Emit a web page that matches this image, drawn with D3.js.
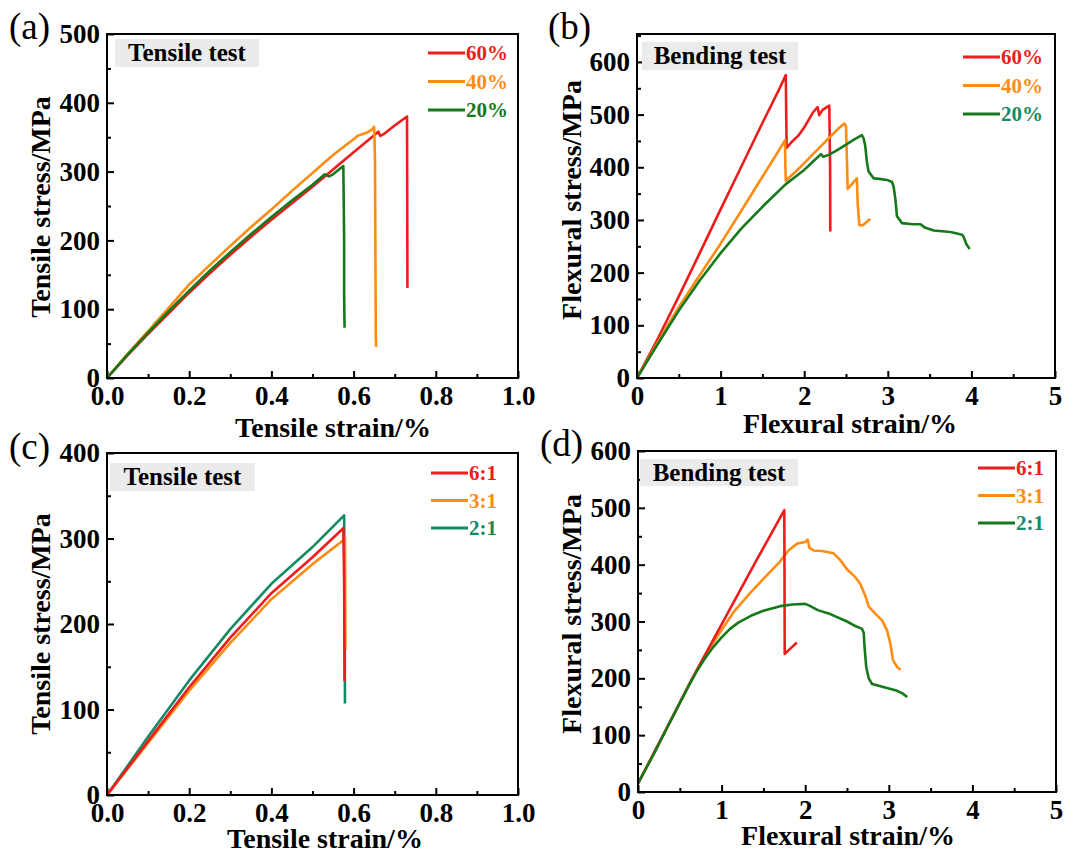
<!DOCTYPE html>
<html>
<head>
<meta charset="utf-8">
<script src="https://cdn.jsdelivr.net/npm/d3@7"></script>
<style>
  html, body { margin: 0; padding: 0; background: #fff; }
  svg { display: block; }
  text { font-family: "Liberation Serif", "Times New Roman", serif; }
</style>
</head>
<body>
<svg id="fig" width="1073" height="855"></svg>
<script>
// ---- Data: stress (MPa) versus strain (%) ----
// (a) tensile test, by fibre content
const tensile60 = [[0,0],[0.05,33],[0.1,64],[0.15,94],[0.2,124],[0.25,152],[0.3,179],[0.35,205],[0.4,230],[0.45,254],[0.5,278],[0.55,303],[0.6,328],[0.65,353],[0.66,358],[0.665,352],[0.672,354],[0.7,367],[0.73,380],[0.731,131]];
const tensile40 = [[0,0],[0.05,35],[0.1,68],[0.15,102],[0.2,136],[0.25,164],[0.3,192],[0.35,219],[0.4,245],[0.45,272],[0.5,298],[0.55,324],[0.6,347],[0.61,352],[0.63,356],[0.645,361],[0.65,365],[0.652,320],[0.653,200],[0.654,60],[0.655,45]];
const tensile20 = [[0,0],[0.05,34],[0.1,66],[0.15,97],[0.2,127],[0.25,156],[0.3,183],[0.35,209],[0.4,234],[0.45,258],[0.5,281],[0.53,296],[0.54,293],[0.55,296],[0.575,308],[0.577,200],[0.577,120],[0.578,73]];

// (b) bending test, by fibre content
const bending60 = [[0,0],[0.25,75],[0.5,155],[0.75,237],[1,320],[1.25,402],[1.5,484],[1.7,548],[1.78,575],[1.785,500],[1.79,437],[1.85,448],[1.93,460],[2.01,478],[2.1,503],[2.16,514],[2.18,499],[2.22,509],[2.3,517],[2.31,400],[2.312,278]];
const bending40 = [[0,0],[0.25,68],[0.5,135],[0.75,195],[1,255],[1.25,318],[1.5,382],[1.65,420],[1.77,451],[1.775,400],[1.78,375],[1.9,392],[2.0,408],[2.1,424],[2.2,440],[2.3,456],[2.4,472],[2.48,483],[2.5,478],[2.51,420],[2.52,359],[2.63,379],[2.64,330],[2.66,290],[2.7,290],[2.79,302]];
const bending20 = [[0,0],[0.25,65],[0.5,128],[0.75,185],[1,237],[1.25,284],[1.5,325],[1.78,368],[2.0,395],[2.1,410],[2.2,425],[2.23,420],[2.3,424],[2.4,433],[2.5,443],[2.6,453],[2.69,461],[2.71,455],[2.73,441],[2.75,410],[2.77,392],[2.83,379],[2.9,378],[2.99,376],[3.05,372],[3.07,363],[3.09,340],[3.11,307],[3.17,294],[3.3,292],[3.39,292],[3.45,285],[3.55,280],[3.75,277],[3.89,272],[3.91,267],[3.94,254],[3.98,245]];

// (c) tensile test, by ratio
const tensile61 = [[0,0],[0.1,63],[0.2,126],[0.3,184],[0.4,236],[0.5,278],[0.575,312],[0.577,250],[0.578,133]];
const tensile31 = [[0,0],[0.1,61],[0.2,122],[0.3,178],[0.4,229],[0.5,270],[0.575,298],[0.579,302],[0.58,170]];
const tensile21 = [[0,0],[0.1,68],[0.2,134],[0.3,194],[0.4,247],[0.5,290],[0.577,327],[0.578,250],[0.579,107]];

// (d) bending test, by ratio
const bending61 = [[0,15],[0.3,100],[0.65,200],[1.0,295],[1.4,403],[1.75,496],[1.752,400],[1.755,243],[1.9,263]];
const bending31 = [[0,15],[0.2,70],[0.4,128],[0.65,200],[0.8,240],[1.0,285],[1.14,316],[1.34,350],[1.5,375],[1.69,404],[1.8,425],[1.9,437],[2.0,440],[2.03,444],[2.05,430],[2.1,425],[2.2,424],[2.34,420],[2.42,408],[2.5,392],[2.6,378],[2.66,366],[2.72,345],[2.76,326],[2.85,312],[2.92,302],[2.98,284],[3.02,260],[3.05,232],[3.1,220],[3.14,215]];
const bending21 = [[0,15],[0.2,70],[0.4,128],[0.6,185],[0.7,212],[0.8,235],[0.9,255],[1.0,272],[1.1,287],[1.2,298],[1.35,310],[1.5,319],[1.7,327],[1.85,330],[2.0,331],[2.05,328],[2.15,320],[2.3,313],[2.5,300],[2.6,292],[2.68,287],[2.7,280],[2.71,255],[2.73,220],[2.76,200],[2.8,190],[2.9,186],[3.0,182],[3.1,178],[3.17,173],[3.22,167]];

// ---- Labels and ticks ----
const contentLabels = ["60%", "40%", "20%"];
const ratioLabels = ["6:1", "3:1", "2:1"];
const tensileXTicks = [0, 0.2, 0.4, 0.6, 0.8, 1.0];
const tensileXMinor = [0.1, 0.3, 0.5, 0.7, 0.9];
const flexXTicks = [0, 1, 2, 3, 4, 5];
const flexXMinor = [0.5, 1.5, 2.5, 3.5, 4.5];
const yTicksA = [0, 100, 200, 300, 400, 500];
const yTicksB = [0, 100, 200, 300, 400, 500, 600];
const yTicksC = [0, 100, 200, 300, 400];
const yTicksD = [0, 100, 200, 300, 400, 500, 600];

const RED = "#ee1c1c", ORANGE = "#ff8c12", GREEN = "#15781a", TEAL = "#148a66";

const panels = [
  { tag: "(a)", box: [107, 34, 518, 378], xDom: [0, 1], yDom: [0, 500],
    xTicks: tensileXTicks, xMinor: tensileXMinor, xFmt: d3.format(".1f"),
    yTicks: yTicksA, xTitle: "Tensile strain/%", yTitle: "Tensile stress/MPa",
    note: "Tensile test", noteBox: [115, 39, 144, 28],
    series: [ {d: tensile60, c: RED}, {d: tensile40, c: ORANGE}, {d: tensile20, c: GREEN} ],
    legend: { labels: contentLabels, colors: [RED, ORANGE, GREEN], text: [RED, ORANGE, GREEN], x: 428, y: 53, dy: 28.5 },
    tagPos: [9, 39], xTitlePos: [333, 437], yTitlePos: [50, 207] },
  { tag: "(b)", box: [637, 34, 1055, 378], xDom: [0, 5], yDom: [0, 653],
    xTicks: flexXTicks, xMinor: flexXMinor, xFmt: d3.format("d"),
    yTicks: yTicksB, xTitle: "Flexural strain/%", yTitle: "Flexural stress/MPa",
    note: "Bending test", noteBox: [642, 42, 156, 28],
    series: [ {d: bending60, c: RED}, {d: bending40, c: ORANGE}, {d: bending20, c: GREEN} ],
    legend: { labels: contentLabels, colors: [RED, ORANGE, GREEN], text: [RED, ORANGE, TEAL], x: 963, y: 57, dy: 28.5 },
    tagPos: [548, 39], xTitlePos: [850, 433], yTitlePos: [581, 200] },
  { tag: "(c)", box: [107, 453, 518, 795], xDom: [0, 1], yDom: [0, 400],
    xTicks: tensileXTicks, xMinor: tensileXMinor, xFmt: d3.format(".1f"),
    yTicks: yTicksC, xTitle: "Tensile strain/%", yTitle: "Tensile stress/MPa",
    note: "Tensile test", noteBox: [110, 463, 145, 28],
    series: [ {d: tensile21, c: TEAL}, {d: tensile31, c: ORANGE}, {d: tensile61, c: RED} ],
    legend: { labels: ratioLabels, colors: [RED, ORANGE, TEAL], text: [RED, ORANGE, TEAL], x: 431, y: 473, dy: 27.5 },
    tagPos: [9, 459], xTitlePos: [325, 848], yTitlePos: [50, 624] },
  { tag: "(d)", box: [638, 451, 1056, 792], xDom: [0, 5], yDom: [0, 600],
    xTicks: flexXTicks, xMinor: flexXMinor, xFmt: d3.format("d"),
    yTicks: yTicksD, xTitle: "Flexural strain/%", yTitle: "Flexural stress/MPa",
    note: "Bending test", noteBox: [640, 459, 158, 27],
    series: [ {d: bending31, c: ORANGE}, {d: bending61, c: RED}, {d: bending21, c: GREEN} ],
    legend: { labels: ratioLabels, colors: [RED, ORANGE, GREEN], text: [RED, ORANGE, TEAL], x: 978, y: 468, dy: 27.5 },
    tagPos: [540, 456], xTitlePos: [848, 845], yTitlePos: [581, 614] }
];

const svg = d3.select("#fig");

panels.forEach(p => {
  const [x0, y0, x1, y1] = p.box;
  const x = d3.scaleLinear().domain(p.xDom).range([x0, x1]);
  const y = d3.scaleLinear().domain(p.yDom).range([y1, y0]);
  const g = svg.append("g");

  // minor y ticks at the half-steps
  const yStep = p.yTicks[1] - p.yTicks[0];
  const yMinor = p.yTicks.slice(0, -1).map(v => v + yStep / 2)
    .concat(p.yTicks[p.yTicks.length - 1] + yStep / 2 < p.yDom[1] ? [p.yTicks[p.yTicks.length - 1] + yStep / 2] : []);

  // bottom axis: major + minor inward ticks
  const gx = g.append("g").attr("transform", `translate(0,${y1})`)
    .call(d3.axisBottom(x).tickValues(p.xTicks).tickFormat(p.xFmt)
      .tickSizeInner(-7).tickSizeOuter(0).tickPadding(8));
  const gxm = g.append("g").attr("transform", `translate(0,${y1})`)
    .call(d3.axisBottom(x).tickValues(p.xMinor).tickFormat("")
      .tickSizeInner(-4).tickSizeOuter(0));
  // left axis: major + minor inward ticks
  const gy = g.append("g").attr("transform", `translate(${x0},0)`)
    .call(d3.axisLeft(y).tickValues(p.yTicks).tickFormat(d3.format("d"))
      .tickSizeInner(-7).tickSizeOuter(0).tickPadding(7));
  const gym = g.append("g").attr("transform", `translate(${x0},0)`)
    .call(d3.axisLeft(y).tickValues(yMinor).tickFormat("")
      .tickSizeInner(-4).tickSizeOuter(0));

  [gx, gxm, gy, gym].forEach(a => {
    a.select(".domain").remove();
    a.selectAll(".tick line").attr("stroke", "#000").attr("stroke-width", 2);
    a.selectAll(".tick text")
      .attr("font-family", "Liberation Serif, Times New Roman, serif")
      .attr("font-weight", "bold").attr("font-size", 27).attr("fill", "#000");
  });

  // note box
  g.append("rect").attr("x", p.noteBox[0]).attr("y", p.noteBox[1])
    .attr("width", p.noteBox[2]).attr("height", p.noteBox[3]).attr("fill", "#ebebeb");
  g.append("text").attr("x", p.noteBox[0] + p.noteBox[2] / 2).attr("y", p.noteBox[1] + p.noteBox[3] / 2 + 8)
    .attr("text-anchor", "middle").attr("font-weight", "bold").attr("font-size", 25)
    .text(p.note);

  // curves
  const line = d3.line().x(d => x(d[0])).y(d => y(d[1]));
  const clipId = "clip" + p.tag.replace(/\W/g, "");
  svg.append("clipPath").attr("id", clipId).append("rect")
    .attr("x", x0).attr("y", y0).attr("width", x1 - x0).attr("height", y1 - y0);
  p.series.forEach(s => {
    g.append("path").datum(s.d).attr("d", line)
      .attr("fill", "none").attr("stroke", s.c).attr("stroke-width", 2.6)
      .attr("stroke-linejoin", "round").attr("clip-path", `url(#${clipId})`);
  });

  // legend
  p.legend.labels.forEach((lab, i) => {
    const ly = p.legend.y + i * p.legend.dy;
    g.append("line").attr("x1", p.legend.x).attr("x2", p.legend.x + 37)
      .attr("y1", ly).attr("y2", ly).attr("stroke", p.legend.colors[i]).attr("stroke-width", 3);
    g.append("text").attr("x", p.legend.x + 38).attr("y", ly + 7)
      .attr("font-weight", "bold").attr("font-size", 21).attr("fill", p.legend.text[i]).text(lab);
  });

  // frame
  g.append("rect").attr("x", x0).attr("y", y0).attr("width", x1 - x0).attr("height", y1 - y0)
    .attr("fill", "none").attr("stroke", "#000").attr("stroke-width", 2);

  // axis titles
  g.append("text").attr("x", p.xTitlePos[0]).attr("y", p.xTitlePos[1])
    .attr("text-anchor", "middle").attr("font-weight", "bold").attr("font-size", 28).text(p.xTitle);
  g.append("text").attr("transform", `translate(${p.yTitlePos[0]},${p.yTitlePos[1]}) rotate(-90)`)
    .attr("text-anchor", "middle").attr("font-weight", "bold").attr("font-size", 28).text(p.yTitle);

  // panel tag
  g.append("text").attr("x", p.tagPos[0]).attr("y", p.tagPos[1])
    .attr("font-size", 37).text(p.tag);
});
</script>
</body>
</html>
